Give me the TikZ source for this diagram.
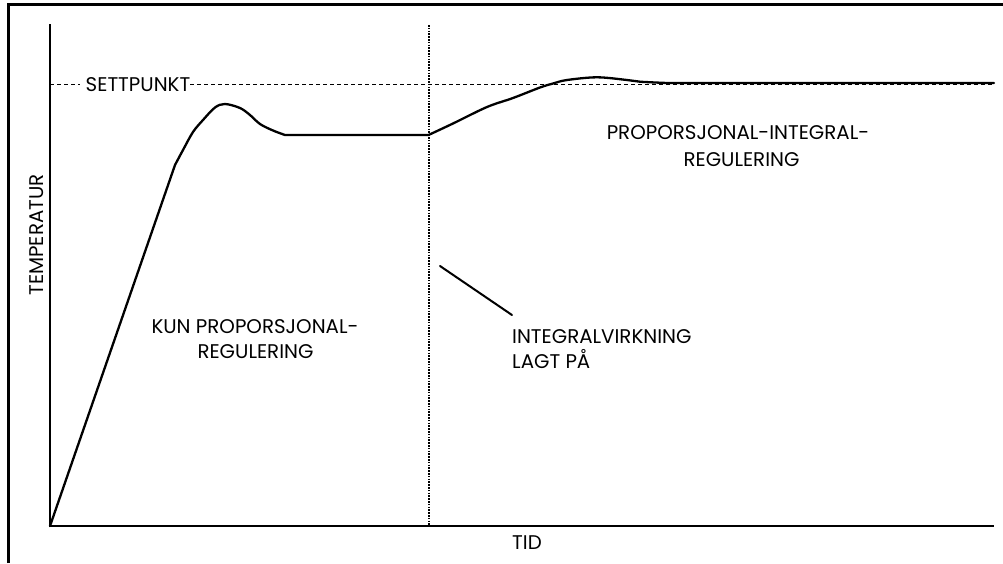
\documentclass[tikz,border=0pt]{standalone}
\usepackage{fontspec}
\setmainfont{Poppins}
\begin{document}
\begin{tikzpicture}[x=1pt,y=-1pt,
  frame/.style={line width=3.5pt,miter limit=10},
  axis/.style={line width=2pt},
  curve/.style={line width=2.3pt,line join=round,line cap=round},
  setline/.style={line width=1.5pt,dash pattern=on 4pt off 3pt},
  dotline/.style={line width=2pt,dash pattern=on 1.6pt off 1.2pt,black},
  lbl/.style={font=\fontsize{19.8}{21}\selectfont,inner sep=0pt,anchor=base},
  lbll/.style={lbl,anchor=base west}]
\useasboundingbox (0,0) rectangle (1003,563);
% frame
\coordinate (fbl) at (8.7,563);
\coordinate (ftl) at (8.7,4.3);
\coordinate (ftr) at (1003,4.3);
\draw[frame] (fbl) -- (ftl) -- (ftr);
% axes
\coordinate (O) at (50,526);
\coordinate (ytop) at (50,24);
\coordinate (xend) at (994,526);
\draw[axis] (ytop) -- (O) -- (xend);
% set point
\coordinate (spL) at (50,84.3);
\coordinate (spR) at (994,84.3);
\node[lbl] (sp) at (138,91) {SETTPUNKT};
\draw[setline] (spL) -- ([xshift=-6pt]sp.west |- spL);
\draw[setline] (sp.east |- spL) -- (spR);
% vertical dotted line
\coordinate (vtop) at (428.5,25);
\coordinate (vbot) at (428.5,526);
\draw[dotline] (vtop) -- (vbot);
% curve
\coordinate (k1) at (175,165);
\coordinate (f1) at (285,135);
\coordinate (f2) at (428.5,135);
\coordinate (f3) at (667,83);
\coordinate (cend) at (994,83);
\draw[curve] (O) -- (k1)
  plot[smooth,tension=0.55] coordinates {(175,165) (183,150) (193,132) (203,120) (215,107.5) (225,104) (240,108) (250,115) (260,124) (273,130.5) (285,135)}
  -- (f2)
  plot[smooth,tension=0.55] coordinates {(428.5,135) (453,123.5) (487,107) (513,98) (540,87.5) (553,83.5) (567,80) (597,77.3) (627,80) (640,81.7) (667,83)}
  -- (cend);
% labels
\node[lbl,rotate=90] (temp) at (43,235) {TEMPERATUR};
\node[lbl] (tid) at (527,549) {TID};
\node[lbl] (kun1) at (255,333) {KUN PROPORSJONAL-};
\node[lbl] (kun2) at (255.5,358) {REGULERING};
\node[lbll] (int1) at (512,343) {INTEGRALVIRKNING};
\node[lbll] (int2) at (512,368) {LAGT PÅ};
\node[lbl] (pi1) at (738,139) {PROPORSJONAL-INTEGRAL-};
\node[lbl] (pi2) at (741.5,166) {REGULERING};
% pointer
\coordinate (ann) at (440,266);
\coordinate (annE) at (512,315);
\draw[curve,line width=2pt] (ann) -- (annE);
\end{tikzpicture}
\end{document}
